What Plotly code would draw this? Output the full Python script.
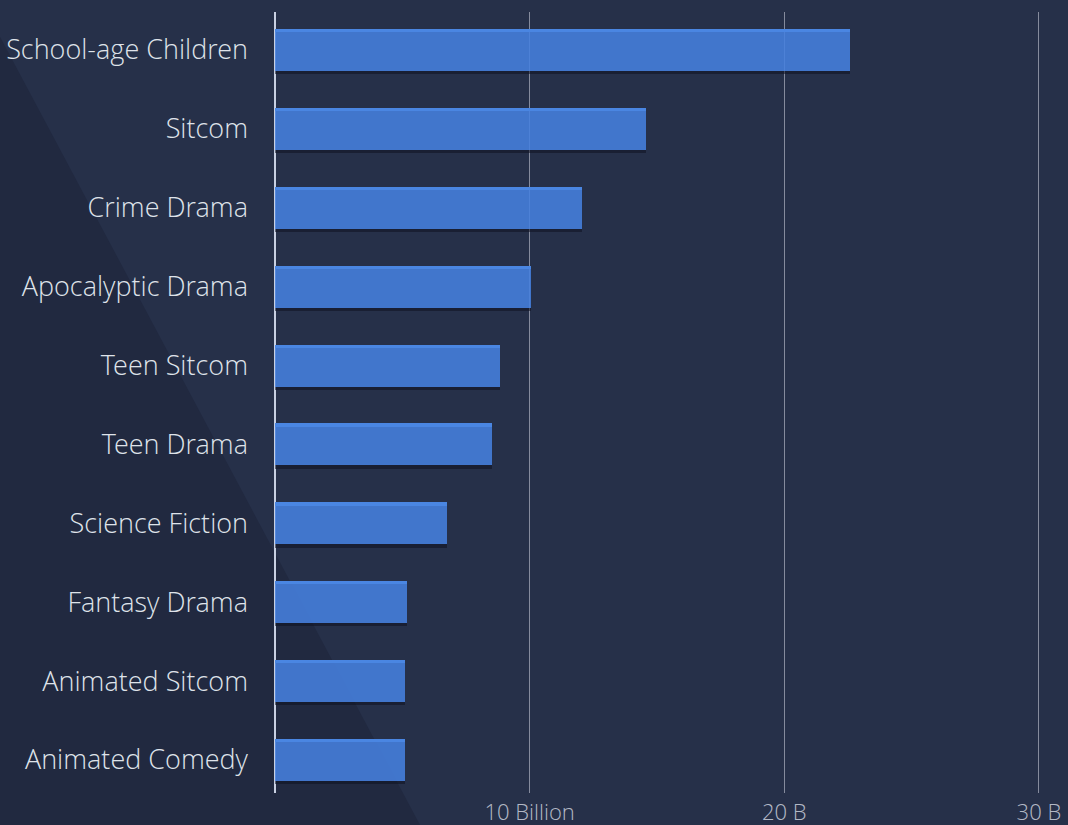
import plotly.graph_objects as go

# Viewing time by genre, billions of minutes (listed top to bottom)
genres = [
    "School-age Children", "Sitcom", "Crime Drama", "Apocalyptic Drama",
    "Teen Sitcom", "Teen Drama", "Science Fiction", "Fantasy Drama",
    "Animated Sitcom", "Animated Comedy",
]
minutes_b = [22.6, 14.55, 12.05, 10.05, 8.83, 8.51, 6.74, 5.18, 5.09, 5.09]

tick_vals = [10, 20, 30]
tick_text = ["10 Billion", "20 B", "30 B"]

# plotly stacks categories bottom-up, so feed them reversed
cats = genres[::-1]
vals = minutes_b[::-1]

W, H = 1068, 825
M_L, M_R, M_T, M_B = 275, 24, 12, 32
X_MAX = 30.2

BG = "#263049"
BG_DARK = "#212940"
BAR = "rgba(70,128,222,0.88)"
BAR_TOP = "#4a86e2"
SHADOW = "rgba(14,18,32,0.55)"

BAR_W = 0.532
STRIP = 0.04

fig = go.Figure()

# main bar body
fig.add_trace(go.Bar(
    y=cats, x=vals, orientation="h", width=BAR_W,
    marker=dict(color=BAR, line=dict(width=0)),
    hoverinfo="x+y", showlegend=False,
))
# bright top edge
fig.add_trace(go.Bar(
    y=cats, x=vals, orientation="h", width=STRIP,
    offset=BAR_W / 2 - STRIP,
    marker=dict(color=BAR_TOP, line=dict(width=0)),
    hoverinfo="skip", showlegend=False,
))
# soft drop shadow under each bar
fig.add_trace(go.Bar(
    y=cats, x=vals, orientation="h", width=STRIP,
    offset=-BAR_W / 2 - STRIP,
    marker=dict(color=SHADOW, line=dict(width=0)),
    hoverinfo="skip", showlegend=False,
))

# darker diagonal wedge across the lower left of the page
pw = W - M_L - M_R
ph = H - M_T - M_B


def px_to_paper(px, py):
    return (px - M_L) / pw, 1 - (py - M_T) / ph


wedge_px = [(-10, 18), (428, 840), (-10, 840)]
pts = [px_to_paper(x, y) for x, y in wedge_px]
path = "M " + " L ".join(f"{x:.4f},{y:.4f}" for x, y in pts) + " Z"
fig.add_shape(
    type="path", path=path, xref="paper", yref="paper",
    fillcolor=BG_DARK, line=dict(width=0), layer="below",
)

fig.update_layout(
    width=W, height=H,
    margin=dict(l=M_L, r=M_R, t=M_T, b=M_B, autoexpand=False),
    paper_bgcolor=BG, plot_bgcolor="rgba(0,0,0,0)",
    barmode="overlay", bargap=0.0,
    font=dict(family="Open Sans", color="#e6e9ef"),
    xaxis=dict(
        range=[0, X_MAX], automargin=False,
        tickvals=tick_vals, ticktext=tick_text,
        tickfont=dict(size=22, color="#b3b8c5",
                      family="Open Sans Light, Open Sans", weight=300),
        showgrid=True, gridcolor="rgba(165,170,185,0.75)", gridwidth=1,
        zeroline=True, zerolinecolor="#c8d0e2", zerolinewidth=1.5,
        showline=False, ticks="", ticklabelstandoff=4,
        fixedrange=True,
    ),
    yaxis=dict(
        categoryorder="array", categoryarray=cats, automargin=False,
        range=[-0.418, 9.482],
        tickfont=dict(size=27, color="#dfe3ea",
                      family="Open Sans Light, Open Sans", weight=300),
        showgrid=False, zeroline=False, showline=False, ticks="",
        ticklabelstandoff=26,
        fixedrange=True,
    ),
)

fig.write_html("out.html")
